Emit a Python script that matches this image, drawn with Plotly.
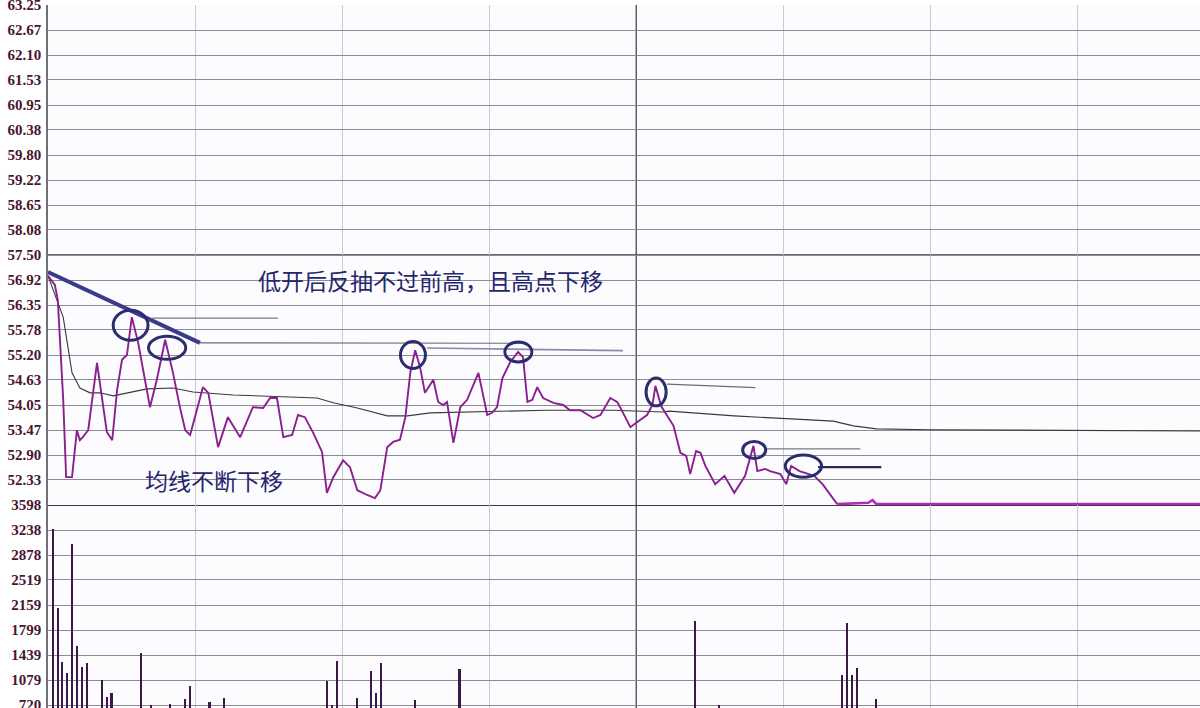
import plotly.graph_objects as go

# ---------------- data ----------------
# price line: minute since open, price
price_t = [0, 1.4, 2.0, 3.1, 3.7, 4.9, 5.9, 6.5, 7.1, 8.2, 10, 12, 13.1, 14.1, 15.1, 16.1, 17.1,
           18.4, 19.4, 20.8, 22.2, 23.9, 25.5, 26.9, 28, 29, 31.6, 32.7, 34.7, 36.7, 39.2, 41.8,
           43.9, 45.3, 46.7, 48, 49.8, 51, 52.4, 54.1, 55.9, 56.9, 58.2, 60.2, 61.6, 63.1, 65.1,
           66.7, 67.8, 69.2, 70.4, 71.8, 72.9, 73.9, 74.9, 75.9, 76.9, 78.6, 79.6, 80.6, 81.4,
           82.7, 84.1, 85.5, 87.8, 89.6, 90.6, 91.6, 92.7, 94.3, 95.9, 96.9, 97.8, 98.8, 99.8,
           101, 103.1, 105.1, 106.5, 108.6, 111.2, 112.7, 114.7, 116.1, 116.7, 118.8, 120.2,
           122.2, 123.3, 123.9, 125.1, 127.6, 129, 130.2, 131, 132.2, 133.1, 134.1, 136.1, 138,
           140, 142.2, 143.9, 144.7, 146.3, 147.3, 149.4, 150.6, 151.6, 153.3, 156.3, 158, 161]
price_v = [57.02, 56.81, 56.47, 54.17, 52.39, 52.39, 53.47, 53.24, 53.31, 53.47, 55.02, 53.43,
           53.24, 54.40, 55.09, 55.20, 56.07, 55.48, 54.86, 54.00, 54.63, 55.55, 54.79, 54.00,
           53.47, 53.36, 54.46, 54.33, 53.08, 53.77, 53.31, 54.00, 53.98, 54.21, 54.21, 53.31,
           53.36, 53.82, 53.77, 53.41, 52.97, 52.03, 52.39, 52.78, 52.62, 52.09, 51.98, 51.91,
           52.09, 53.08, 53.20, 53.25, 53.77, 54.79, 55.31, 54.92, 54.33, 54.63, 54.12, 54.05,
           54.12, 53.18, 54.00, 54.17, 54.79, 53.82, 53.87, 54.00, 54.67, 55.04, 55.27, 55.15,
           54.12, 54.17, 54.46, 54.21, 54.10, 54.05, 53.93, 53.93, 53.75, 53.82, 54.21, 54.12,
           54.00, 53.54, 53.66, 53.82, 54.05, 54.49, 54.02, 53.57, 52.95, 52.88, 52.46, 52.99,
           52.95, 52.65, 52.23, 52.42, 52.03, 52.42, 53.11, 52.53, 52.58, 52.53, 52.46, 52.23,
           52.65, 52.53, 52.42, 52.23, 51.77]
# limit-down stretch
limit_t = [161, 167.3, 168.2, 169, 240]
limit_v = [51.77, 51.80, 51.86, 51.77, 51.77]

# average price line
avg_t = [0, 3.1, 4.9, 6.5, 8.6, 10.6, 13.3, 16.1, 20.2, 25.5, 29.6, 37.8, 47.3, 54.9, 58.2, 63.1,
         69.2, 73.3, 78, 88.2, 101.8, 115.3, 125.5, 126.7, 140, 151.6, 160.2, 164.3, 169, 179.8,
         229.8, 240]
avg_v = [57.02, 56.07, 54.79, 54.44, 54.33, 54.33, 54.26, 54.33, 54.42, 54.44, 54.35, 54.28,
         54.24, 54.21, 54.10, 53.98, 53.80, 53.80, 53.87, 53.89, 53.93, 53.93, 53.89, 53.91,
         53.80, 53.73, 53.68, 53.57, 53.50, 53.48, 53.45, 53.45]

# volume
vol_t = [1, 2, 3, 4, 5, 6, 7, 8, 11, 12, 13, 19, 21, 25, 28, 29, 33, 36, 57, 58, 59, 63, 66,
         67, 68, 75, 84, 132, 137, 162, 163, 164, 165, 169]
vol_v = [3253, 2116, 1339, 1180, 3037, 1569, 1267, 1324, 1080, 835, 893, 1468, 725, 730, 806,
         993, 763, 820, 1065, 725, 1353, 820, 1210, 893, 1324, 792, 1238, 1929, 725, 1152,
         1900, 1152, 1252, 806]

price_ticks = ["63.25", "62.67", "62.10", "61.53", "60.95", "60.38", "59.80", "59.22", "58.65",
               "58.08", "57.50", "56.92", "56.35", "55.78", "55.20", "54.63", "54.05", "53.47",
               "52.90", "52.33"]
vol_ticks = ["3598", "3238", "2878", "2519", "2159", "1799", "1439", "1079", "720"]

prev_close = 57.50
price_lo, price_hi = 51.75, 63.25
vol_lo, vol_hi = 677, 3598

note_main = "低开后反抽不过前高，且高点下移"
note_avg = "均线不断下移"

# hand-drawn markings (data coords): circles (t0, t1, p0, p1)
circles = [(13.3, 20.4, 55.54, 56.23), (20.5, 28.1, 55.10, 55.63), (71.9, 77.0, 54.89, 55.51),
           (93.2, 98.7, 55.04, 55.50), (122.0, 126.1, 54.03, 54.67), (141.7, 146.4, 52.82, 53.21),
           (150.4, 157.8, 52.39, 52.90)]
# resistance lines (t0, t1, p0, p1, colour, width)
levels = [(21.2, 46.9, 56.05, 56.05, "#7a7a86", 1.2), (31.0, 96.3, 55.48, 55.47, "#6c6c78", 1.2),
          (77.3, 117.3, 55.36, 55.30, "#8a8ab0", 1.6), (126.3, 144.3, 54.53, 54.45, "#6c6c78", 1.2),
          (146.3, 165.7, 53.04, 53.04, "#7a7a86", 1.2), (157.1, 170.0, 52.62, 52.62, "#2a2a5a", 2.2)]
trend = (0, 31.0, 57.11, 55.48)

# ---------------- figure ----------------
fig = go.Figure()

fig.add_trace(go.Scatter(x=avg_t, y=avg_v, mode="lines", line=dict(color="#3a3a3a", width=1.1),
                         xaxis="x", yaxis="y", hoverinfo="skip", showlegend=False))
fig.add_trace(go.Scatter(x=price_t, y=price_v, mode="lines", line=dict(color="#8a1f8e", width=1.9),
                         xaxis="x", yaxis="y", showlegend=False))
fig.add_trace(go.Scatter(x=limit_t, y=limit_v, mode="lines", line=dict(color="#b02cb8", width=2.6),
                         xaxis="x", yaxis="y", showlegend=False, cliponaxis=False))
fig.add_trace(go.Bar(x=vol_t, y=vol_v, width=0.32, marker=dict(color="#3c1848", line=dict(width=0)),
                     xaxis="x2", yaxis="y2", showlegend=False))

split = (708 - 505) / 703.0
tickfont = dict(family="Liberation Serif", size=15, color="#4a1430", weight="bold")

fig.update_layout(
    width=1200, height=708,
    margin=dict(l=48, r=0, t=5, b=0, autoexpand=False),
    paper_bgcolor="#ffffff", plot_bgcolor="#fcfcff",
    bargap=0,
    xaxis=dict(domain=[0, 1], range=[0, 235], anchor="y", tickvals=[30, 60, 90, 150, 180, 210],
               showticklabels=False, showgrid=True, gridcolor="#cacad2", gridwidth=1,
               zeroline=False, showline=False, automargin=False),
    xaxis2=dict(domain=[0, 1], range=[0, 235], anchor="y2", matches="x",
                tickvals=[30, 60, 90, 150, 180, 210],
                showticklabels=False, showgrid=True, gridcolor="#cacad2", gridwidth=1,
                zeroline=False, showline=False, automargin=False),
    yaxis=dict(domain=[split, 1], range=[price_lo, price_hi],
               tickvals=[float(s) for s in price_ticks], ticktext=price_ticks,
               tickfont=tickfont, showgrid=True, gridcolor="#8c8c94", gridwidth=1.3,
               zeroline=False, showline=True, linecolor="#707078", linewidth=1.5,
               ticks="", ticklabelstandoff=2, automargin=False, ticklabeloverflow="allow"),
    yaxis2=dict(domain=[0, split], range=[vol_lo, vol_hi],
                tickvals=[float(s) for s in vol_ticks], ticktext=vol_ticks,
                tickfont=tickfont, showgrid=True, gridcolor="#8c8c94", gridwidth=1.3,
                zeroline=False, showline=True, linecolor="#707078", linewidth=1.5,
                ticks="", ticklabelstandoff=2, automargin=False, ticklabeloverflow="allow"),
    font=dict(family="Noto Sans CJK SC"),
)

shapes = []
# midday separator and previous-close / panel divider lines
for xr, yr in (("x", "y domain"), ("x2", "y2 domain")):
    shapes.append(dict(type="line", xref=xr, yref=yr, x0=120, x1=120, y0=0, y1=1,
                       line=dict(color="#55555e", width=1.4), layer="below"))
shapes.append(dict(type="line", xref="x domain", yref="y", x0=0, x1=1, y0=prev_close, y1=prev_close,
                   line=dict(color="#3a3a44", width=1.6), layer="below"))
shapes.append(dict(type="line", xref="x domain", yref="y2", x0=0, x1=1, y0=vol_hi, y1=vol_hi,
                   line=dict(color="#3a3a44", width=1.8), layer="below"))
# trend line
shapes.append(dict(type="line", xref="x", yref="y", x0=trend[0], x1=trend[1], y0=trend[2], y1=trend[3],
                   line=dict(color="#3b3b8c", width=4)))
for t0, t1, p0, p1, col, w in levels:
    shapes.append(dict(type="line", xref="x", yref="y", x0=t0, x1=t1, y0=p0, y1=p1,
                       line=dict(color=col, width=w)))
for t0, t1, p0, p1 in circles:
    shapes.append(dict(type="circle", xref="x", yref="y", x0=t0, x1=t1, y0=p0, y1=p1,
                       line=dict(color="#2c2c70", width=3)))
fig.update_layout(shapes=shapes)

fig.add_annotation(x=42.5, y=56.92, xref="x", yref="y", text=note_main, showarrow=False,
                   xanchor="left", yanchor="middle", font=dict(size=23, color="#26266e",
                   family="Noto Sans CJK SC"), bgcolor="rgba(0,0,0,0)")
fig.add_annotation(x=19.3, y=52.33, xref="x", yref="y", text=note_avg, showarrow=False,
                   xanchor="left", yanchor="middle", font=dict(size=23, color="#26266e",
                   family="Noto Sans CJK SC"))

fig.write_html("out.html", config={"displayModeBar": False},
               post_script="document.body.style.margin='0px';document.body.style.overflow='hidden';")
